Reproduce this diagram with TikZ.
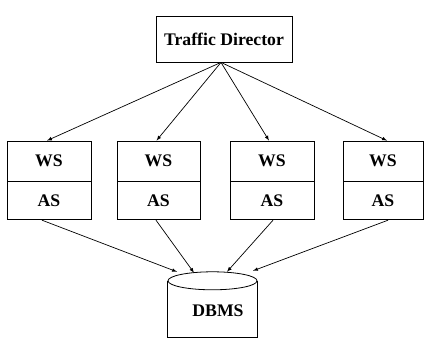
\documentclass[tikz,border=0pt]{standalone}
\usepackage{fontspec}
\setmainfont{Liberation Serif}
\usepackage{tikz}
\usetikzlibrary{%
  arrows,%
  calc%
}
\tikzset{>=latex}
\tikzset{
  srvbox/.style={draw,line width=0.8pt,minimum width=84pt,inner sep=0pt,
    font=\fontsize{17.7}{20}\selectfont\bfseries},
  wire/.style={line width=0.7pt,->}
}

\begin{document}
\begin{tikzpicture}[x=1pt,y=-1pt]
    \useasboundingbox (0,0) rectangle (424,339);
    \node[srvbox,minimum width=136pt,minimum height=46pt] (td) at (224,39)
    {Traffic Director};
    % web server / app server pairs
    \node[srvbox,minimum height=40pt] (ws1) at (49,161) {WS};
    \node[srvbox,minimum height=38pt,anchor=north] (as1) at (ws1.south) {AS};
    \node[srvbox,minimum width=83pt,minimum height=40pt] (ws2) at (158.5,161) {WS};
    \node[srvbox,minimum width=83pt,minimum height=38pt,anchor=north] (as2)
    at (ws2.south) {AS};
    \node[srvbox,minimum height=40pt] (ws3) at (272,161) {WS};
    \node[srvbox,minimum height=38pt,anchor=north] (as3) at (ws3.south) {AS};
    \node[srvbox,minimum width=80pt,minimum height=40pt] (ws4) at (383,161) {WS};
    \node[srvbox,minimum width=80pt,minimum height=38pt,anchor=north] (as4)
    at (ws4.south) {AS};
    % database
    \node[minimum width=89pt,minimum height=65pt,inner sep=0pt] (db) at (212.5,304.5) {};
    \draw[line width=0.8pt] ($(db.north west)+(0,9)$) -- (db.south west) --
    (db.south east) -- ($(db.north east)+(0,9)$);
    \draw[line width=0.8pt] ($(db.north)+(0,9)$) ellipse [x radius=44.5pt, y radius=9pt];
    \node[font=\fontsize{17.7}{20}\selectfont\bfseries] (dbl) at (218,311) {DBMS};
    % arrows
    \draw[wire] ($(td.south)+(-3,0)$) -- ($(ws1.north)+(-2,0)$);
    \draw[wire] ($(td.south)+(-3,0)$) -- ($(ws2.north)+(-2,0)$);
    \draw[wire] ($(td.south)+(-3,0)$) -- ($(ws3.north)+(-3,0)$);
    \draw[wire] ($(td.south)+(-3,0)$) -- ($(ws4.north)+(4,0)$);
    \draw[wire] ($(as1.south)+(-7,0)$) -- ($(db.north)+(-35.5,0)$);
    \draw[wire] ($(as2.south)+(-2.5,0)$) -- ($(db.north)+(-18.5,1)$);
    \draw[wire] ($(as3.south)+(1,0)$) -- ($(db.north)+(14.5,0)$);
    \draw[wire] ($(as4.south)+(5,0)$) -- ($(db.north)+(40.5,-1)$);
  \end{tikzpicture}
\end{document}
